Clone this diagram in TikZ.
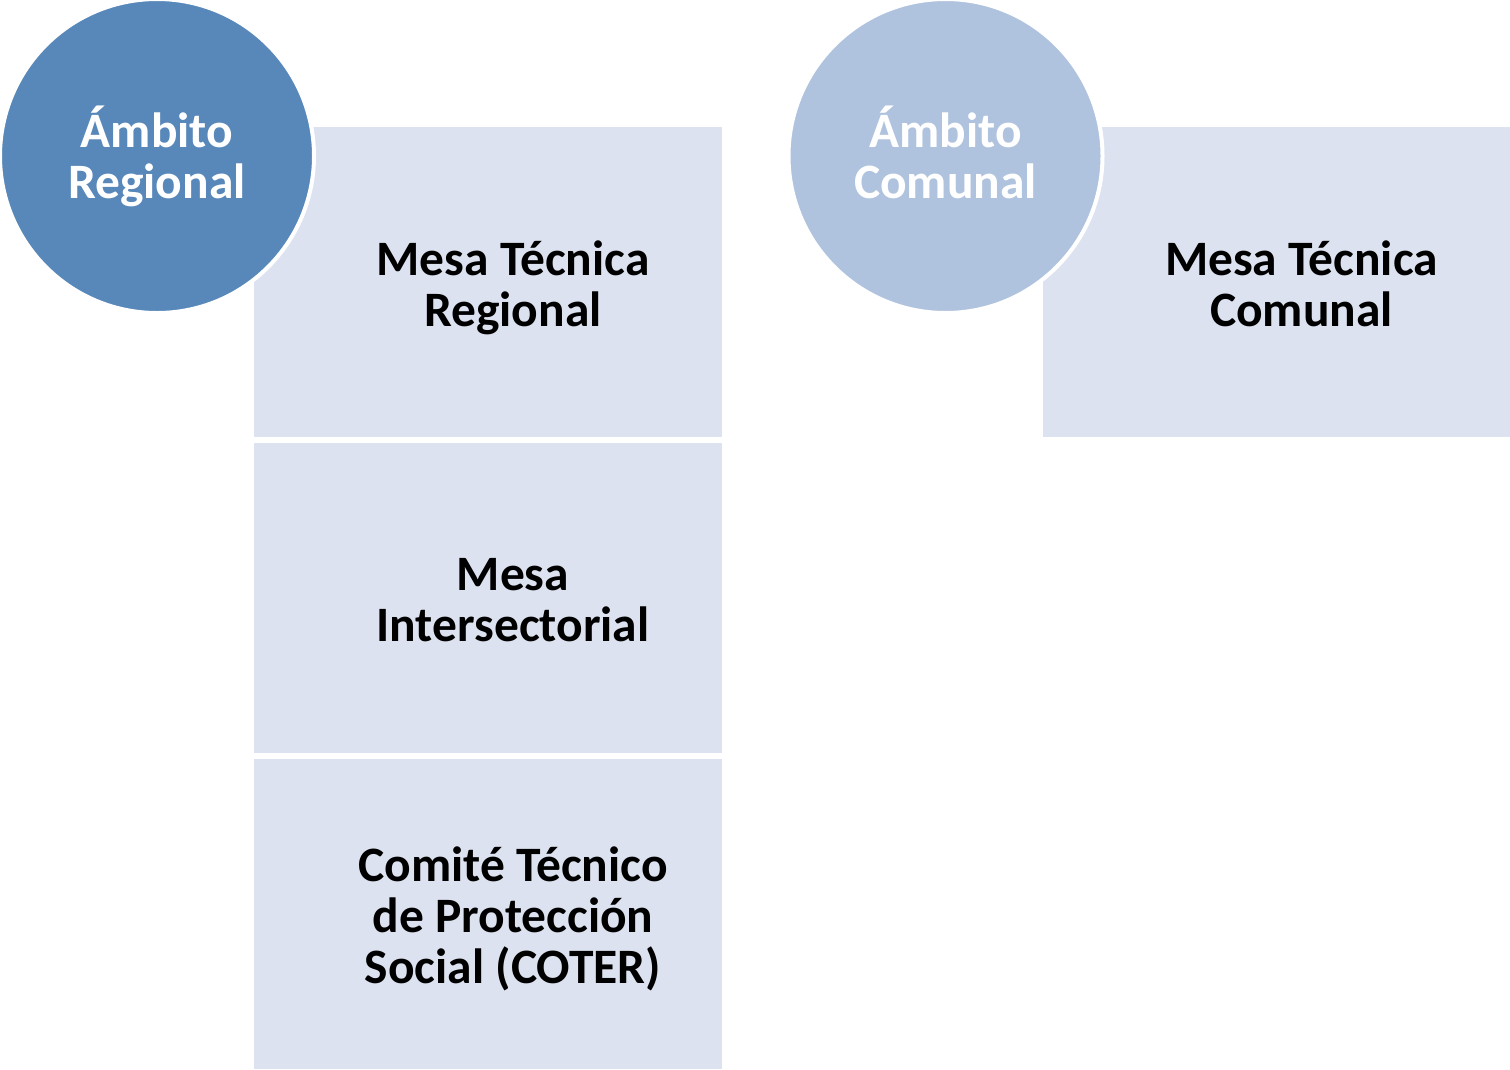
\documentclass[tikz,border=0pt]{standalone}
\usepackage{fontspec}
\setmainfont{Carlito}
\usepackage{tikz}
\definecolor{regional}{RGB}{88,136,186}
\definecolor{comunal}{RGB}{176,195,222}
\definecolor{mesa}{RGB}{220,226,239}

\begin{document}
\begin{tikzpicture}[x=1pt,y=-1pt,
		mesa/.style={rectangle,fill=mesa,minimum width=468pt,minimum height=310pt,inner sep=0pt},
		ambito/.style={circle,draw=white,line width=4pt,minimum size=314pt,inner sep=0pt},
		rotulo/.style={align=center,inner sep=0pt,text depth=0pt,font=\fontsize{49.5}{51}\selectfont\bfseries}]
			\useasboundingbox (0,0) rectangle (1510,1069);
			
			% regional
			
			\foreach \i/\y in {1/282,2/598,3/913.5} {
				\node[mesa] (R\i) at (488,\y) {};
			}
			\node[rotulo] (TR1) at ([xshift=25pt,yshift=-2pt]R1.center) {Mesa Técnica\\Regional};
			\node[rotulo] (TR2) at ([xshift=25pt,yshift=-2pt]R2.center) {Mesa\\Intersectorial};
			\node[rotulo] (TR3) at ([xshift=25pt,yshift=-2pt]R3.center) {Comité Técnico\\de Protección\\Social (COTER)};
			\node[ambito,fill=regional] (A1) at (157,156) {};
			\node[rotulo,text=white] (TA1) at ([yshift=3.5pt]A1.center) {Ámbito\\Regional};
			
			% comunal
			
			\node[mesa] (C1) at (1276.5,282) {};
			\node[rotulo] (TC1) at ([xshift=25pt,yshift=-2pt]C1.center) {Mesa Técnica\\Comunal};
			\node[ambito,fill=comunal] (A2) at (945.5,156) {};
			\node[rotulo,text=white] (TA2) at ([yshift=3.5pt]A2.center) {Ámbito\\Comunal};
			
		\end{tikzpicture}
\end{document}
